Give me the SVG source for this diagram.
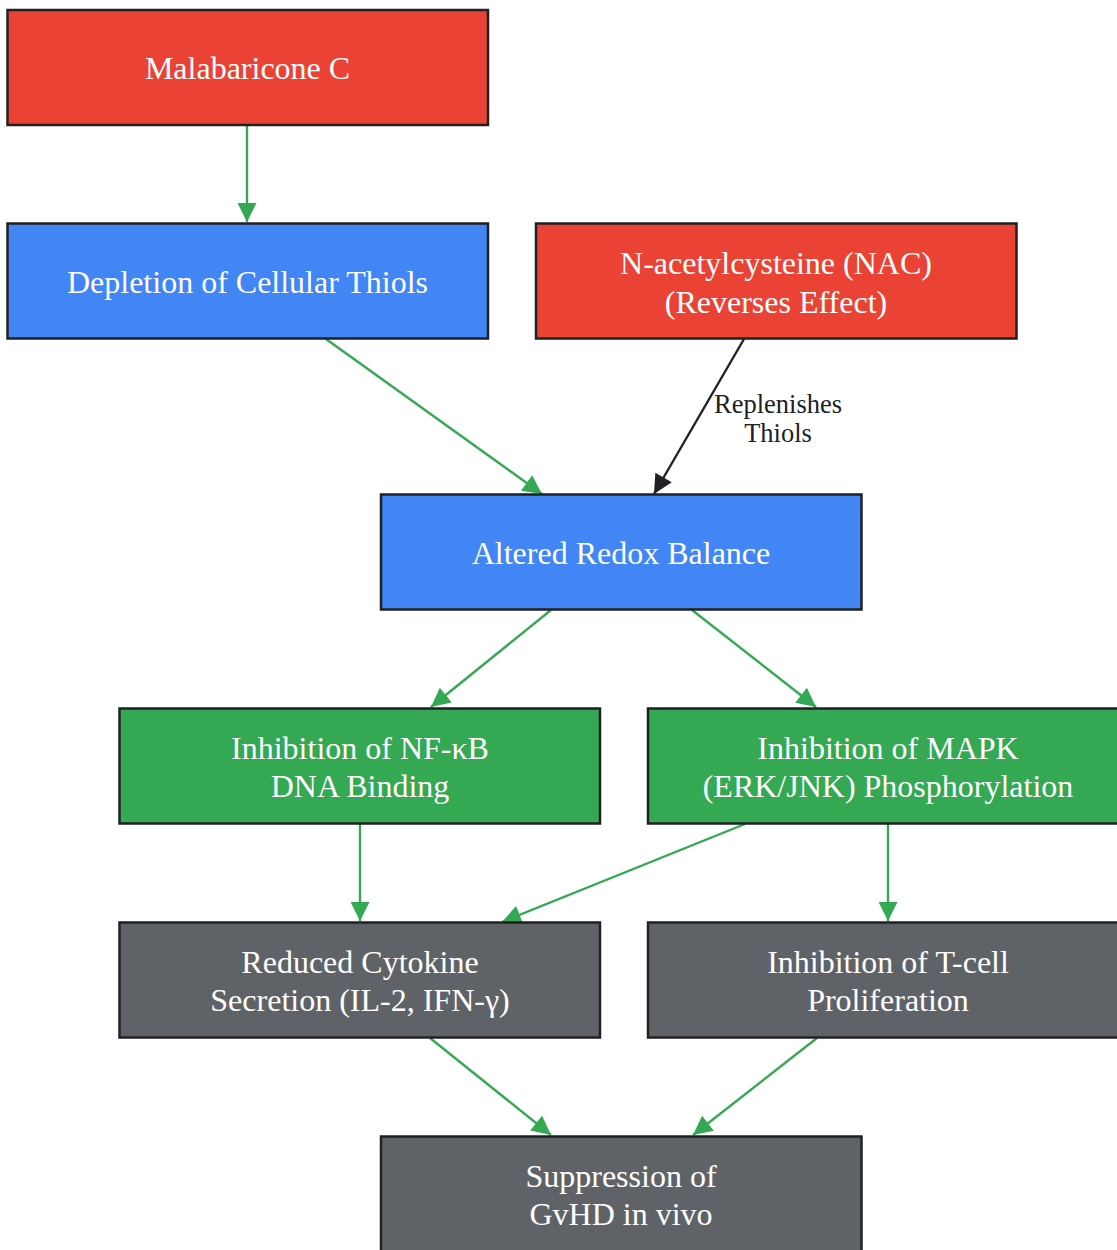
<svg xmlns="http://www.w3.org/2000/svg" width="1117" height="1250" viewBox="0 0 1117 1250">
<style>
.node rect{stroke:#202124;stroke-width:2.5}
.red rect{fill:#EA4335}
.blue rect{fill:#4285F4}
.green rect{fill:#34A853}
.gray rect{fill:#5F6368}
.node text{font-family:"Liberation Serif","Times New Roman",serif;font-size:32px;fill:#FFFFFF;text-anchor:middle}
.edge{stroke:#34A853;stroke-width:2.4;fill:none;marker-end:url(#ag)}
.edge.dark{stroke:#202124;marker-end:url(#ak)}
.elabel{font-family:"Liberation Serif","Times New Roman",serif;font-size:26.5px;fill:#202124;text-anchor:middle}
</style>
<defs>
<marker id="ag" viewBox="0 0 10 10" refX="10" refY="5" markerUnits="userSpaceOnUse" markerWidth="25" markerHeight="19" orient="auto"><path d="M0,0 L10,5 L0,10 z" fill="#34A853"/></marker>
<marker id="ak" viewBox="0 0 10 10" refX="10" refY="5" markerUnits="userSpaceOnUse" markerWidth="25" markerHeight="19" orient="auto"><path d="M0,0 L10,5 L0,10 z" fill="#202124"/></marker>
</defs>
<rect width="1117" height="1250" fill="#FFFFFF"/>
<g id="edges">
<line class="edge" x1="247" y1="125" x2="247" y2="222"/>
<line class="edge" x1="326" y1="339" x2="542" y2="494"/>
<line class="edge dark" x1="744" y1="339" x2="654" y2="494"/>
<text class="elabel" x="778" y="413">Replenishes</text>
<text class="elabel" x="778" y="442">Thiols</text>
<line class="edge" x1="551" y1="610" x2="431" y2="707"/>
<line class="edge" x1="692" y1="610" x2="816" y2="707"/>
<line class="edge" x1="360" y1="824" x2="360" y2="921"/>
<line class="edge" x1="745" y1="824" x2="502" y2="922"/>
<line class="edge" x1="888" y1="824" x2="888" y2="921"/>
<line class="edge" x1="430" y1="1038" x2="551" y2="1135"/>
<line class="edge" x1="817" y1="1038" x2="693" y2="1135"/>
</g>
<g id="malabaricone" class="node red"><rect x="7.5" y="10" width="480.5" height="115"/><text x="247.5" y="79">Malabaricone C</text></g>
<g id="depletion" class="node blue"><rect x="7.5" y="223.5" width="480.5" height="115"/><text x="247.5" y="293">Depletion of Cellular Thiols</text></g>
<g id="nac" class="node red"><rect x="536" y="223.5" width="480.5" height="115"/><text x="776" y="274">N-acetylcysteine (NAC)</text><text x="776" y="313">(Reverses Effect)</text></g>
<g id="redox" class="node blue"><rect x="381" y="494.5" width="480.5" height="115"/><text x="621" y="564">Altered Redox Balance</text></g>
<g id="nfkb" class="node green"><rect x="119.5" y="708.5" width="480.5" height="115"/><text x="360" y="759">Inhibition of NF-κB</text><text x="360" y="797">DNA Binding</text></g>
<g id="mapk" class="node green"><rect x="648" y="708.5" width="480.5" height="115"/><text x="888" y="759">Inhibition of MAPK</text><text x="888" y="797">(ERK/JNK) Phosphorylation</text></g>
<g id="cytokine" class="node gray"><rect x="119.5" y="922.5" width="480.5" height="115"/><text x="360" y="973">Reduced Cytokine</text><text x="360" y="1011">Secretion (IL-2, IFN-γ)</text></g>
<g id="tcell" class="node gray"><rect x="648" y="922.5" width="480.5" height="115"/><text x="888" y="973">Inhibition of T-cell</text><text x="888" y="1011">Proliferation</text></g>
<g id="gvhd" class="node gray"><rect x="381" y="1136.5" width="480.5" height="115"/><text x="621" y="1187">Suppression of</text><text x="621" y="1225">GvHD in vivo</text></g>
</svg>
